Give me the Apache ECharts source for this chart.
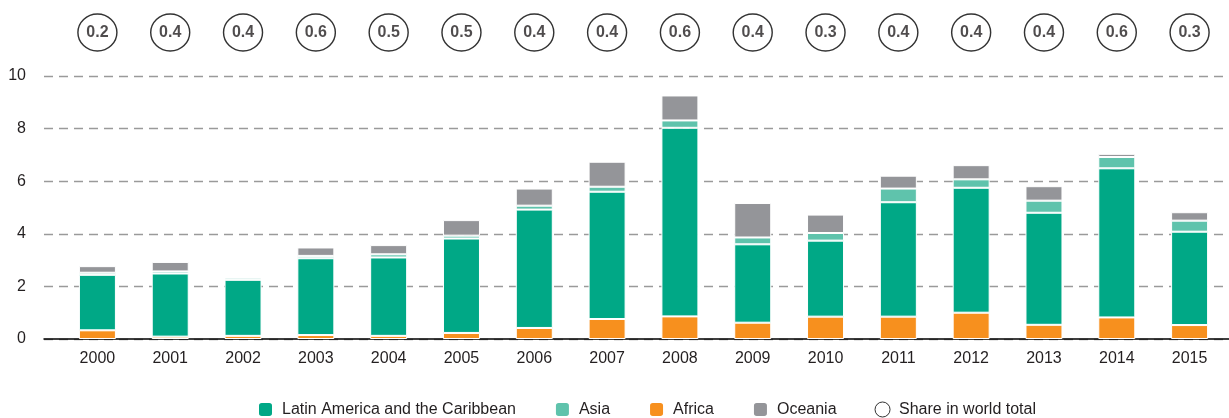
<!DOCTYPE html>
<html>
<head>
<meta charset="utf-8">
<script src="https://cdn.jsdelivr.net/npm/echarts@6/dist/echarts.min.js"></script>
<style>
    html, body { margin: 0; padding: 0; background: #fff; }
    #main { width: 1229px; height: 418px; }
</style>
</head>
<body>
<div id="main"></div>
<script>
// years on the x axis
var years = ['2000','2001','2002','2003','2004','2005','2006','2007',
    '2008','2009','2010','2011','2012','2013','2014','2015'];
// stacked values, bottom to top
var africa  = [0.33, 0.09, 0.12, 0.15, 0.12, 0.23, 0.42, 0.76, 0.86, 0.62, 0.85, 0.85, 1.00, 0.54, 0.82, 0.53];
var latin   = [2.11, 2.40, 2.13, 2.92, 2.98, 3.59, 4.50, 4.84, 7.17, 2.98, 2.89, 4.35, 4.75, 4.26, 5.67, 3.55];
var asia    = [0.08, 0.08, 0.08, 0.09, 0.12, 0.11, 0.15, 0.19, 0.28, 0.26, 0.29, 0.52, 0.32, 0.46, 0.43, 0.42];
var oceania = [0.25, 0.36, 0.01, 0.32, 0.35, 0.59, 0.65, 0.95, 0.95, 1.31, 0.70, 0.49, 0.54, 0.55, 0.12, 0.32];
// share in world total (circles on top)
var share   = [0.2, 0.4, 0.4, 0.6, 0.5, 0.5, 0.4, 0.4, 0.6, 0.4, 0.3, 0.4, 0.4, 0.4, 0.6, 0.3];
var yTicks  = [0, 2, 4, 6, 8, 10];

var font = "'Liberation Sans', Arial, sans-serif";
var ink = '#231f20';

var myChart = echarts.init(document.getElementById('main'));

function barSeries(name, data, color) {
    return {
        name: name,
        type: 'bar',
        stack: 'total',
        xAxisIndex: 1,
        yAxisIndex: 1,
        barWidth: 37,
        itemStyle: {
            color: color,
            borderColor: '#ffffff',
            borderWidth: 1
        },
        data: data
    };
}

var option = {
    backgroundColor: '#ffffff',
    animation: false,
    textStyle: { fontFamily: font },
    grid: [
        // wide grid: y labels, dashed lines and base line
        { left: 44, right: 0, top: 76, bottom: 79 },
        // bars
        { left: 61, right: 3, top: 76, bottom: 79 },
        // circles on top
        { left: 61, right: 3, top: 0, height: 65 }
    ],
    xAxis: [
        {
            gridIndex: 0, type: 'value', min: 0, max: 1,
            axisLine: { show: true, lineStyle: { color: '#000', width: 1.5 } },
            axisTick: { show: false }, axisLabel: { show: false }, splitLine: { show: false }
        },
        {
            gridIndex: 1, type: 'category', data: years,
            axisLine: { show: false }, axisTick: { show: false },
            axisLabel: { color: ink, fontSize: 16, margin: 12, fontFamily: font }
        },
        {
            gridIndex: 2, type: 'category', data: years, show: false
        }
    ],
    yAxis: [
        {
            gridIndex: 0, type: 'value', min: 0, max: 10, interval: 2,
            axisLine: { show: false }, axisTick: { show: false },
            axisLabel: {
                color: ink, fontSize: 16, margin: 18, fontFamily: font,
                formatter: function (v) { return yTicks.indexOf(v) >= 0 ? String(v) : ''; }
            },
            splitLine: { lineStyle: { color: '#9a9a9a', width: 1.3, type: [9, 6] } }
        },
        { gridIndex: 1, type: 'value', min: 0, max: 10, show: false, splitLine: { show: false } },
        { gridIndex: 2, type: 'value', min: 0, max: 1, show: false, splitLine: { show: false } }
    ],
    legend: {
        left: 252,
        top: 396,
        itemWidth: 15,
        itemHeight: 15,
        itemGap: 38,
        icon: 'roundRect',
        textStyle: { color: ink, fontSize: 16, fontFamily: font, padding: [0, 0, 0, 4] },
        data: [
            'Latin America and the Caribbean',
            'Asia',
            'Africa',
            'Oceania',
            {
                name: 'Share in world total',
                icon: 'circle',
                itemStyle: { color: '#ffffff', borderColor: '#000000', borderWidth: 1 }
            }
        ]
    },
    series: [
        barSeries('Africa', africa, '#f7901e'),
        barSeries('Latin America and the Caribbean', latin, '#00a886'),
        barSeries('Asia', asia, '#5fc3ac'),
        barSeries('Oceania', oceania, '#949599'),
        {
            name: 'Share in world total',
            type: 'scatter',
            xAxisIndex: 2,
            yAxisIndex: 2,
            symbol: 'circle',
            symbolSize: [39, 37],
            itemStyle: { color: '#ffffff', borderColor: '#000000', borderWidth: 1.4 },
            label: {
                show: true,
                position: 'inside',
                color: ink,
                fontSize: 16,
                fontWeight: 'bold',
                fontFamily: font,
                formatter: function (p) { return p.value[2].toFixed(1); }
            },
            data: share.map(function (s, i) { return [years[i], 0.5, s]; }),
            encode: { x: 0, y: 1 }
        }
    ]
};

myChart.setOption(option);
</script>
</body>
</html>
